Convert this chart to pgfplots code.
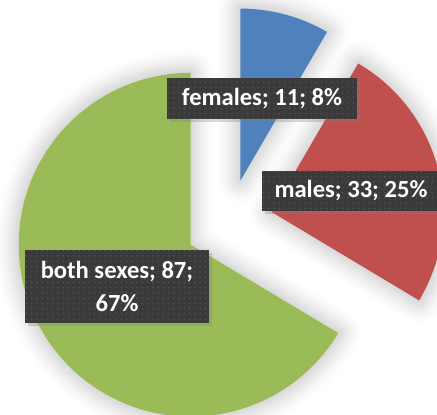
\documentclass[border=0pt]{standalone}
\usepackage{pgfplots}
\pgfplotsset{compat=1.18}
\usepackage{fontspec}
\setmainfont{Carlito}
\usetikzlibrary{patterns,calc,shadows}
\definecolor{pblue}{HTML}{4F81BD}
\definecolor{pred}{HTML}{C0504D}
\definecolor{pgreen}{HTML}{9BBB59}
\definecolor{lblbg}{HTML}{3A3A3A}
\definecolor{lbldot}{HTML}{525252}

% data: females, males, both sexes
\def\vF{11}\def\vM{33}\def\vB{87}
\pgfmathsetmacro\tot{\vF+\vM+\vB}
\pgfmathsetmacro\aA{90}
\pgfmathsetmacro\aB{\aA-360*(\vF/\tot)}
\pgfmathsetmacro\aC{\aB-360*(\vM/\tot)}
\pgfmathsetmacro\aD{\aC-360*(\vB/\tot)}
\pgfmathsetmacro\mA{(\aA+\aB)/2}
\pgfmathsetmacro\mB{(\aB+\aC)/2}
\pgfmathsetmacro\mC{(\aC+\aD)/2}
\def\R{3.44cm}
\def\E{0.88cm}

\newcommand\slicepath[3]{($(axis cs:229,191)+(#1:\E)$) -- ++(#2:\R) arc[start angle=#2, end angle=#3, radius=\R] -- cycle}
\newcommand\glow[2]{%
  \draw[black, opacity=#2, line width=#1, line join=round] \slicepath{\mA}{\aA}{\aB};
  \draw[black, opacity=#2, line width=#1, line join=round] \slicepath{\mB}{\aB}{\aC};
  \draw[black, opacity=#2, line width=#1, line join=round] \slicepath{\mC}{\aC}{\aD};}

\tikzset{lbl/.style={fill=lblbg, text=white, inner sep=0pt, align=center,
  font=\bfseries\fontsize{14}{18.7}\selectfont,
  postaction={pattern=dots, pattern color=lbldot},
  drop shadow={shadow xshift=1.5pt, shadow yshift=-1.5pt, opacity=0.3}}}

\begin{document}
\begin{tikzpicture}
\begin{axis}[x=0.02cm, y=0.02cm, xmin=0, xmax=437, ymin=0, ymax=414,
  hide axis, clip=true]
\coordinate (LL) at (axis cs:0,0);
\coordinate (UR) at (axis cs:437,414);
% soft glow
\glow{0.9cm}{0.008}
\glow{0.8cm}{0.01}
\glow{0.7cm}{0.012}
\glow{0.6cm}{0.014}
\glow{0.5cm}{0.016}
\glow{0.4cm}{0.018}
\glow{0.3cm}{0.02}
\glow{0.2cm}{0.022}
\glow{0.1cm}{0.025}
\fill[pblue] \slicepath{\mA}{\aA}{\aB};
\fill[pred] \slicepath{\mB}{\aB}{\aC};
\fill[pgreen] \slicepath{\mC}{\aC}{\aD};
\node[lbl, minimum width=3.8cm, minimum height=0.82cm] at (axis cs:262,315.5) {females; 11; 8\%};
\node[lbl, minimum width=3.56cm, minimum height=0.80cm] at (axis cs:351,223) {males; 33; 25\%};
\node[lbl, minimum width=3.68cm, minimum height=1.46cm] at (axis cs:117,127.5) {both sexes; 87;\\67\%};
\end{axis}
\pgfresetboundingbox
\path[use as bounding box] (LL) rectangle (UR);
\end{tikzpicture}
\end{document}
